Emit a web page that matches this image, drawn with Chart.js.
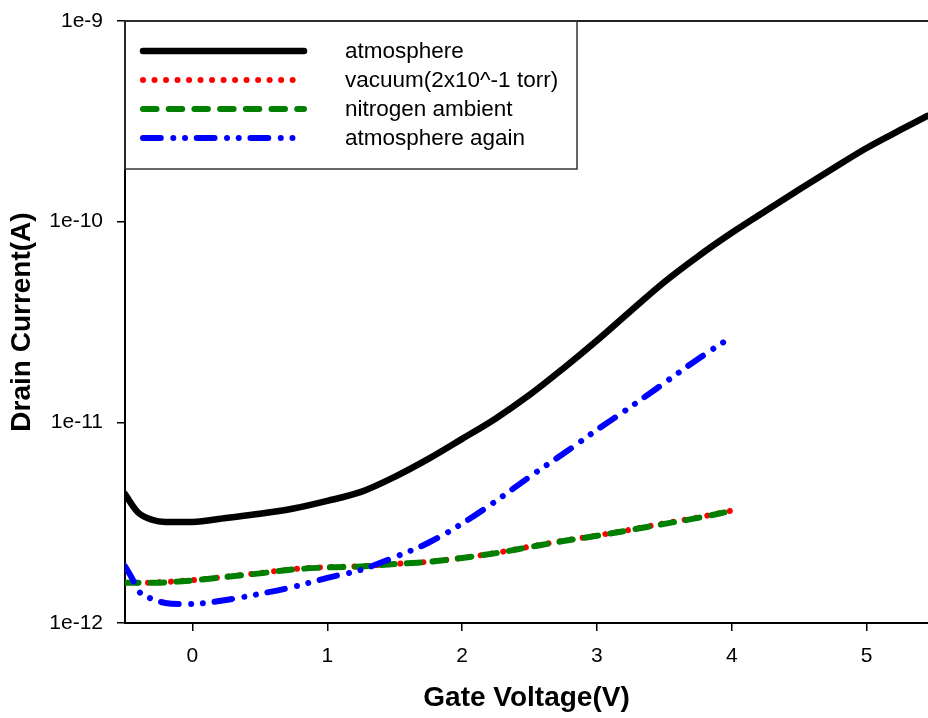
<!DOCTYPE html>
<html>
<head>
<meta charset="utf-8">
<script src="https://cdn.jsdelivr.net/npm/chart.js@4.4.1/dist/chart.umd.min.js"></script>
<style>
  html, body { margin: 0; padding: 0; background: #fff; }
</style>
</head>
<body>
<canvas id="chart" width="928" height="718"></canvas>
<script>
// series names, in legend order
const seriesLabels = ['atmosphere', 'vacuum(2x10^-1 torr)', 'nitrogen ambient', 'atmosphere again'];

// gate voltage (V) / drain current (A)
const gateAtm = [-0.5, -0.45, -0.4, -0.3, -0.2, -0.1, 0, 0.25, 0.5, 0.75, 1.0, 1.25, 1.5, 1.75, 2.0, 2.25, 2.5, 2.75, 3.0, 3.25, 3.5, 3.75, 4.0, 4.25, 4.5, 4.75, 5.0, 5.25, 5.45];
const currentAtm = [4.40e-12, 3.90e-12, 3.54e-12, 3.27e-12, 3.19e-12, 3.19e-12, 3.19e-12, 3.34e-12, 3.50e-12, 3.72e-12, 4.06e-12, 4.50e-12, 5.35e-12, 6.57e-12, 8.27e-12, 1.046e-11, 1.369e-11, 1.856e-11, 2.558e-11, 3.59e-11, 5.005e-11, 6.72e-11, 8.80e-11, 1.130e-10, 1.447e-10, 1.841e-10, 2.329e-10, 2.863e-10, 3.363e-10];

const gateShort = [-0.5, -0.4, -0.3, -0.2, -0.1, 0, 0.25, 0.5, 0.75, 1.0, 1.25, 1.5, 1.75, 2.0, 2.25, 2.5, 2.75, 3.0, 3.25, 3.5, 3.75, 4.0];
const currentVacuum = [1.59e-12, 1.585e-12, 1.59e-12, 1.60e-12, 1.62e-12, 1.635e-12, 1.70e-12, 1.775e-12, 1.855e-12, 1.90e-12, 1.92e-12, 1.97e-12, 2.02e-12, 2.11e-12, 2.235e-12, 2.40e-12, 2.57e-12, 2.73e-12, 2.92e-12, 3.14e-12, 3.36e-12, 3.63e-12];
const currentN2 = [1.585e-12, 1.585e-12, 1.585e-12, 1.594e-12, 1.611e-12, 1.630e-12, 1.698e-12, 1.767e-12, 1.849e-12, 1.892e-12, 1.914e-12, 1.968e-12, 2.015e-12, 2.11e-12, 2.23e-12, 2.39e-12, 2.56e-12, 2.72e-12, 2.91e-12, 3.12e-12, 3.34e-12, 3.62e-12];

const gateAgain = [-0.5, -0.45, -0.4, -0.3, -0.2, -0.1, 0, 0.25, 0.5, 0.75, 1.0, 1.25, 1.5, 1.75, 2.0, 2.25, 2.5, 2.75, 3.0, 3.25, 3.5, 3.75, 4.0];
const currentAgain = [1.92e-12, 1.68e-12, 1.445e-12, 1.318e-12, 1.259e-12, 1.245e-12, 1.245e-12, 1.303e-12, 1.397e-12, 1.514e-12, 1.679e-12, 1.84e-12, 2.13e-12, 2.51e-12, 3.13e-12, 4.05e-12, 5.35e-12, 6.97e-12, 9.17e-12, 1.194e-11, 1.571e-11, 2.07e-11, 2.67e-11];

const yTickValues = [1e-12, 1e-11, 1e-10, 1e-9];

const FONT = 'Liberation Sans, Arial, sans-serif';

function toPoints(xs, ys) {
    return xs.map((x, i) => ({ x: x, y: ys[i] }));
}

function lineDataset(label, xs, ys, color, width, dash, order) {
    return {
        label: label,
        data: toPoints(xs, ys),
        borderColor: color,
        backgroundColor: color,
        borderWidth: width,
        borderDash: dash,
        borderCapStyle: 'round',
        borderJoinStyle: 'round',
        cubicInterpolationMode: 'monotone',
        pointRadius: 0,
        fill: false,
        order: order
    };
}

// frame on top of the plot and the boxed legend in the upper left corner
const frameLegend = {
    id: 'frameLegend',
    afterDraw(chart) {
        const ctx = chart.ctx;
        const area = chart.chartArea;
        ctx.save();
        ctx.strokeStyle = '#222';
        ctx.lineWidth = 2;
        ctx.beginPath();
        ctx.moveTo(area.left, area.top);
        ctx.lineTo(area.right, area.top);
        ctx.stroke();

        ctx.lineWidth = 1.5;
        ctx.strokeStyle = '#333';
        ctx.strokeRect(area.left, area.top, 452, 148);

        chart.data.datasets.forEach((ds, i) => {
            const y = area.top + 30 + i * 29;
            ctx.save();
            ctx.strokeStyle = ds.borderColor;
            ctx.lineWidth = ds.borderWidth;
            ctx.lineCap = ds.borderCapStyle;
            ctx.setLineDash(ds.borderDash || []);
            ctx.beginPath();
            ctx.moveTo(area.left + 18, y);
            ctx.lineTo(area.left + 179, y);
            ctx.stroke();
            ctx.restore();

            ctx.fillStyle = '#000';
            ctx.font = '22.5px ' + FONT;
            ctx.textBaseline = 'middle';
            ctx.textAlign = 'left';
            ctx.fillText(ds.label, area.left + 220, y + 1);
        });
        ctx.restore();
    }
};

const ctx = document.getElementById('chart').getContext('2d');

new Chart(ctx, {
    type: 'line',
    data: {
        datasets: [
            lineDataset(seriesLabels[0], gateAtm, currentAtm, '#000000', 6.5, [], 0),
            lineDataset(seriesLabels[1], gateShort, currentVacuum, '#ff0000', 6, [0.01, 11.5], 3),
            lineDataset(seriesLabels[2], gateShort, currentN2, '#008000', 6, [13.5, 12.2], 2),
            lineDataset(seriesLabels[3], gateAgain, currentAgain, '#0000ff', 6, [17.8, 12.5, 0.01, 11.7, 0.01, 11.7], 1)
        ]
    },
    options: {
        responsive: false,
        animation: false,
        devicePixelRatio: 1,
        layout: { padding: { top: 21, right: 0, left: 0, bottom: 0 } },
        plugins: {
            legend: { display: false },
            tooltip: { enabled: false }
        },
        scales: {
            x: {
                type: 'linear',
                min: -0.5,
                max: 5.455,
                ticks: {
                    stepSize: 1,
                    includeBounds: false,
                    maxRotation: 0,
                    color: '#000',
                    padding: 13,
                    font: { family: FONT, size: 21 }
                },
                grid: { drawOnChartArea: false, drawTicks: true, tickLength: 8, color: '#000', lineWidth: 1.5 },
                border: { display: true, color: '#000', width: 2 },
                title: {
                    display: true,
                    text: 'Gate Voltage(V)',
                    color: '#000',
                    font: { family: FONT, size: 28, weight: 'bold' },
                    padding: { top: 0, bottom: 3 }
                },
                afterFit: (scale) => {
                    scale.height = 95;
                    scale.paddingLeft = 0;
                    scale.paddingRight = 0;
                }
            },
            y: {
                type: 'logarithmic',
                min: 1e-12,
                max: 1e-9,
                afterBuildTicks: (scale) => {
                    scale.ticks = yTickValues.map(v => ({ value: v }));
                },
                ticks: {
                    color: '#000',
                    padding: 14,
                    font: { family: FONT, size: 21 },
                    callback: (v) => '1e' + Math.round(Math.log10(v))
                },
                grid: { drawOnChartArea: false, drawTicks: true, tickLength: 8, color: '#000', lineWidth: 1.5 },
                border: { display: true, color: '#000', width: 2 },
                title: {
                    display: true,
                    text: 'Drain Current(A)',
                    color: '#000',
                    font: { family: FONT, size: 28, weight: 'bold' },
                    padding: { top: 5, bottom: 0 }
                },
                afterFit: (scale) => {
                    scale.width = 125;
                    scale.paddingTop = 0;
                    scale.paddingBottom = 0;
                }
            }
        }
    },
    plugins: [frameLegend]
});
</script>
</body>
</html>
